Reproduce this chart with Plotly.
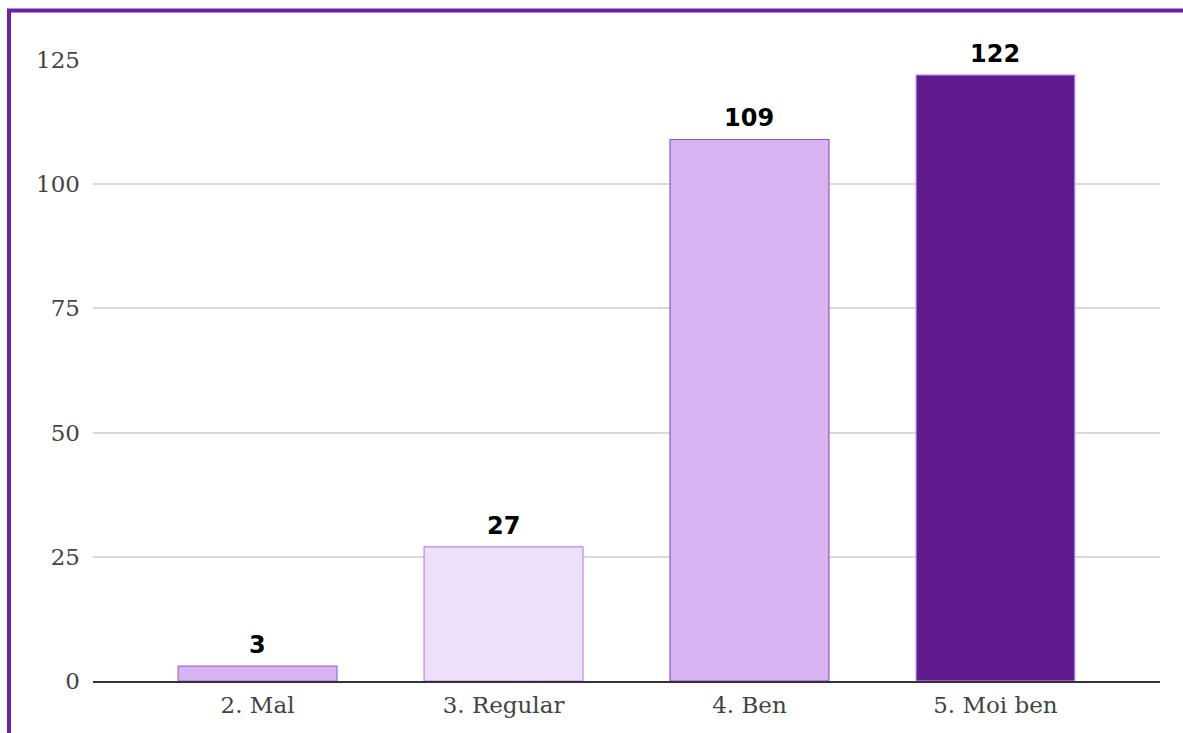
import plotly.graph_objects as go

categories = ["2. Mal", "3. Regular", "4. Ben", "5. Moi ben"]
values = [3, 27, 109, 122]
fill_colors = ["#d7b4f1", "#efe0fa", "#d7b4f1", "#5f1a8d"]
line_colors = ["#a36ad6", "#b98ae0", "#9350cb", "#c9a2ea"]
y_ticks = [0, 25, 50, 75, 100, 125]

W, H = 1183, 733
L, R, T, B = 93, 23, 60, 52

fig = go.Figure()
fig.add_trace(go.Bar(
    x=list(range(len(categories))),
    y=values,
    width=0.646,
    marker=dict(color=fill_colors, line=dict(color=line_colors, width=1.2)),
    hoverinfo="skip",
))

for i, v in enumerate(values):
    fig.add_annotation(
        x=i, y=v, text=str(v), showarrow=False,
        xref="x", yref="y", yanchor="bottom", yshift=5,
        font=dict(family="DejaVu Sans", size=24, color="#000000", weight="bold"),
    )

pw = W - L - R
ph = H - T - B
fig.add_shape(
    type="rect", xref="paper", yref="paper",
    x0=(9 - L) / pw, x1=(W + 20 - L) / pw,
    y0=-(B + 20) / ph, y1=(H - B - 10.5) / ph,
    line=dict(color="#6a22a3", width=4), fillcolor="rgba(0,0,0,0)", layer="above",
)

fig.update_layout(
    width=W, height=H,
    margin=dict(l=L, r=R, t=T, b=B, pad=0),
    plot_bgcolor="white", paper_bgcolor="white",
    showlegend=False,
    xaxis=dict(
        tickmode="array", tickvals=list(range(len(categories))), ticktext=categories,
        range=[-0.669, 3.669], showgrid=False, zeroline=False,
        showline=True, linecolor="#333333", linewidth=1.5,
        tickfont=dict(family="DejaVu Serif", size=23, color="#444444"),
        ticks="", ticklabelstandoff=3, fixedrange=True,
    ),
    yaxis=dict(
        range=[0, 125], tickmode="array", tickvals=y_ticks,
        showgrid=True, gridcolor="#d9d9d9", gridwidth=1.5,
        zeroline=False, showline=False,
        tickfont=dict(family="DejaVu Serif", size=23, color="#444444"),
        ticks="", ticklabelstandoff=12, fixedrange=True,
    ),
)

fig.write_html(
    "out.html",
    config={"displayModeBar": False},
    post_script="document.body.style.margin='0';document.body.style.overflow='hidden';",
)
